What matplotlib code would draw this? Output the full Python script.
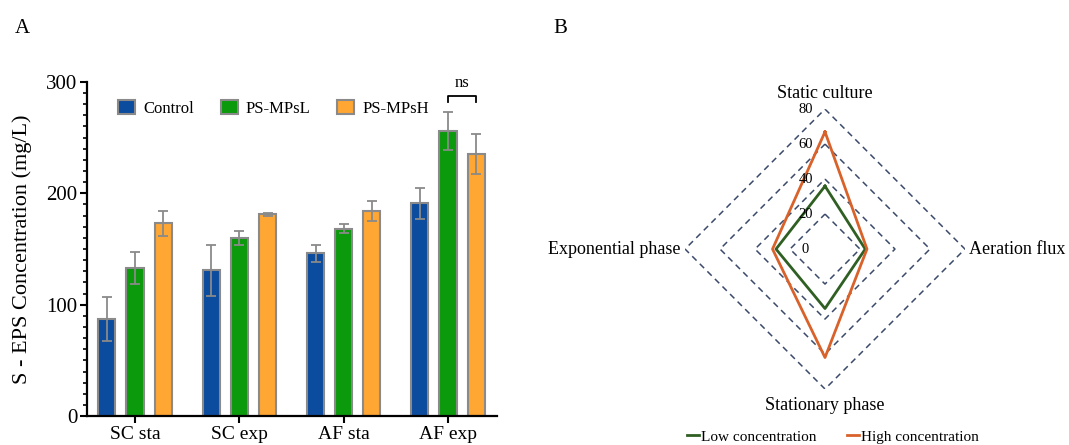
import numpy as np
import matplotlib
matplotlib.use('Agg')
import matplotlib.pyplot as plt
from matplotlib.ticker import MultipleLocator
from matplotlib.lines import Line2D

plt.rcParams['font.family'] = ['Liberation Serif', 'DejaVu Serif']

# --- panel A data (S-EPS, mg/L) ---
groups = ['SC sta', 'SC exp', 'AF sta', 'AF exp']
series = ['Control', 'PS-MPsL', 'PS-MPsH']
control = [87, 131, 146, 191]
control_err = [20, 23, 8, 14]
mps_low = [133, 160, 168, 256]
mps_low_err = [14, 6, 4, 17]
mps_high = [173, 181, 184, 235]
mps_high_err = [11, 1, 9, 18]

# --- panel B data (radar) ---
radar_axes = ['Static culture', 'Aeration flux', 'Stationary phase', 'Exponential phase']
low_conc = [36, 23, 34, 28]
high_conc = [67, 24, 62, 30]
radar_ticks = [0, 20, 40, 60, 80]

bar_colors = ['#0b4c9e', '#0a9a0c', '#ffa633']
low_color = '#2f5f22'
high_color = '#d9622b'
grid_color = '#3b4a6b'

fig = plt.figure(figsize=(10.69, 4.45), dpi=100)

# ---------------- A: bar chart ----------------
ax = fig.add_axes([0.0814, 0.065, 0.3836, 0.751])
x = np.arange(len(groups))
w = 0.165
off = 0.27
vals = [control, mps_low, mps_high]
errs = [control_err, mps_low_err, mps_high_err]
for i in range(3):
    ax.bar(x + (i - 1) * off, vals[i], width=w, color=bar_colors[i],
           edgecolor='#8a8a8a', linewidth=1.5, label=series[i],
           yerr=errs[i], error_kw=dict(ecolor='#8a8a8a', elinewidth=1.3,
                                       capsize=3.5, capthick=1.3))

ax.set_xlim(-0.46, 3.47)
ax.set_ylim(0, 300)
ax.set_yticks([0, 100, 200, 300])
ax.yaxis.set_minor_locator(MultipleLocator(10))
ax.set_xticks(x)
ax.set_xticklabels(groups, fontsize=14)
ax.tick_params(axis='y', labelsize=15, width=1.5, length=5, pad=2)
ax.tick_params(axis='y', which='minor', width=1.2, length=3)
ax.tick_params(axis='x', width=1.5, length=5, pad=2)
for s in ['top', 'right']:
    ax.spines[s].set_visible(False)
for s in ['left', 'bottom']:
    ax.spines[s].set_linewidth(1.6)
ax.set_ylabel('S - EPS Concentration (mg/L)', fontsize=16, labelpad=10)

ax.legend(loc='upper left', bbox_to_anchor=(0.04, 0.99), ncol=3, frameon=False,
          fontsize=12, handlelength=1.0, handleheight=0.9, handletextpad=0.5,
          columnspacing=1.6)

# ns bracket over AF exp low/high
xl = x[3]
xh = x[3] + off
ax.plot([xl, xl, xh, xh], [282, 287, 287, 282], color='black', lw=1.3,
        clip_on=False)
ax.text((xl + xh) / 2, 292, 'ns', ha='center', va='bottom', fontsize=12)

fig.text(0.014, 0.925, 'A', fontsize=15)
fig.text(0.518, 0.925, 'B', fontsize=15)

# ---------------- B: radar chart ----------------
rx = fig.add_axes([0.6408, 0.1258, 0.2619, 0.629], projection='polar')
rx.set_theta_offset(np.pi / 2)
rx.set_theta_direction(-1)
rx.set_ylim(0, 80)
theta = np.linspace(0, 2 * np.pi, len(radar_axes), endpoint=False)
th_closed = np.append(theta, theta[0])

for r in radar_ticks[1:]:
    rx.plot(th_closed, [r] * (len(theta) + 1), color=grid_color, lw=1.1,
            ls=(0, (4, 3)))

rx.plot(th_closed, low_conc + low_conc[:1], color=low_color, lw=2)
rx.plot(th_closed, high_conc + high_conc[:1], color=high_color, lw=2)

rx.grid(False)
rx.spines['polar'].set_visible(False)
rx.set_xticks([])
rx.set_yticks([])
rx.patch.set_alpha(0)

for r in radar_ticks:
    rx.annotate(str(r), xy=(0, r), xytext=(-14, 0), textcoords='offset points',
                ha='center', va='center', fontsize=10.5)

label_offsets = [(0, 5, 'center', 'bottom'), (3, 0, 'left', 'center'),
                 (0, -6, 'center', 'top'), (-3, 0, 'right', 'center')]
for t, name, (dx, dy, ha, va) in zip(theta, radar_axes, label_offsets):
    rx.annotate(name, xy=(t, 80), xytext=(dx, dy), textcoords='offset points',
                ha=ha, va=va, fontsize=13)

handles = [Line2D([], [], color=low_color, lw=2),
           Line2D([], [], color=high_color, lw=2)]
fig.legend(handles, ['Low concentration', 'High concentration'],
           loc='center', bbox_to_anchor=(0.779, 0.018), ncol=2, frameon=False,
           fontsize=11, handlelength=0.8, handletextpad=0.1, columnspacing=2.0)

fig.savefig('out.png', dpi=100)
